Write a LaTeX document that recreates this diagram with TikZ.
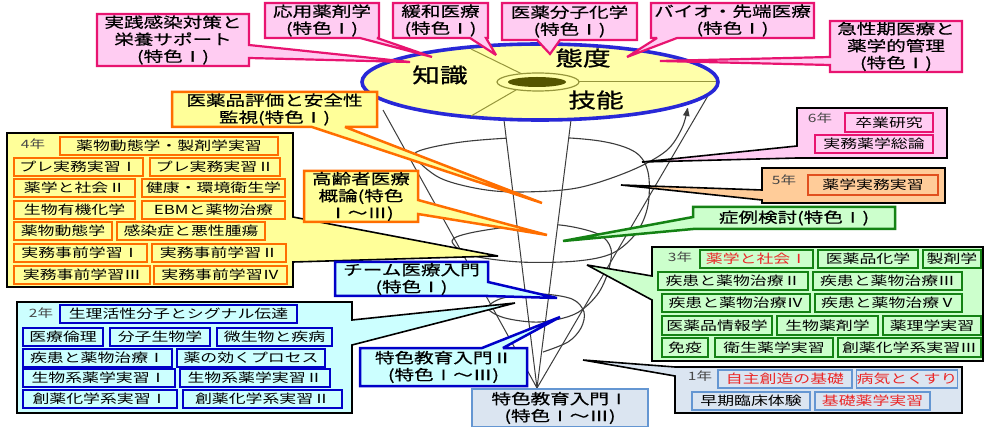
\documentclass[tikz,border=0pt]{standalone}
\usepackage{fontspec}
\usetikzlibrary{arrows.meta}
\newfontfamily\jp[FakeStretch=1.35]{Noto Sans CJK JP}
\newfontfamily\jpc[FakeStretch=1.35,FakeBold=0.6]{Noto Sans CJK JP}
\newfontfamily\jpl[FakeStretch=1.35,FakeBold=1]{Noto Sans CJK JP}
\newcommand\fitm{\jp\fontsize{12.5}{14}\selectfont}
\newcommand\fyr{\jp\fontsize{11.5}{13}\selectfont}
\newcommand\fcal{\jpc\fontsize{14.5}{17}\selectfont}
\newcommand\flab{\jpl\fontsize{20.5}{24}\selectfont}
\definecolor{pfill}{RGB}{255,204,242}
\definecolor{pkbd}{RGB}{232,20,112}
\definecolor{yfill}{RGB}{255,255,153}
\definecolor{orbd}{RGB}{255,110,0}
\definecolor{gfill}{RGB}{204,255,204}
\definecolor{grbd}{RGB}{20,130,20}
\definecolor{cfill}{RGB}{204,255,255}
\definecolor{blbd}{RGB}{0,0,200}
\definecolor{sfill}{RGB}{219,229,241}
\definecolor{sbbd}{RGB}{100,150,210}
\definecolor{pchfill}{RGB}{255,204,153}
\definecolor{rdor}{RGB}{225,80,30}
\definecolor{elfill}{RGB}{255,255,170}
\definecolor{elbd}{RGB}{40,40,215}
\definecolor{olivedk}{RGB}{85,85,0}
\definecolor{olvln}{RGB}{150,150,60}
\definecolor{redtx}{RGB}{235,40,40}
\definecolor{conel}{RGB}{60,60,60}
\definecolor{lblgray}{RGB}{70,70,70}
\tikzset{
 frm/.style={inner sep=0pt, outer sep=0pt},
 ibox/.style={draw, line width=1.6pt, inner sep=0pt, outer sep=0pt, font=\fitm, text=black},
 i4/.style={ibox, draw=orbd, fill=yfill},
 i3/.style={ibox, draw=grbd, fill=gfill},
 i2/.style={ibox, draw=blbd, fill=cfill},
 i1/.style={ibox, draw=sbbd, fill=sfill},
 i6/.style={ibox, draw=pkbd, fill=pfill},
 i5/.style={ibox, draw=rdor, fill=pchfill},
 rtx/.style={text=redtx},
 yr/.style={font=\fyr, text=lblgray, inner sep=0pt},
 ctx/.style={font=\fcal, align=center, inner sep=0pt, text=black},
 cpink/.style={draw=pkbd, fill=pfill, line width=2.2pt},
 corng/.style={draw=orbd, fill=yfill, line width=2.5pt},
 cblue/.style={draw=blbd, fill=cfill, line width=2.5pt},
 cgreen/.style={draw=grbd, fill=gfill, line width=2.5pt},
 cblk/.style={draw=black, line width=1.6pt},
 conestyle/.style={draw=conel, line width=1pt},
}
\newcommand\frm[5]{\node[frm, minimum width={(#4-#2)*1pt}, minimum height={(#5-#3)*1pt}] (#1) at ({(#2+#4)/2},{(#3+#5)/2}) {};}
\newcommand\ib[7]{\node[#2, minimum width={(#5-#3)*1pt}, minimum height={(#6-#4)*1pt}] (#1) at ({(#3+#5)/2},{(#4+#6)/2}) {#7};}
\begin{document}
\begin{tikzpicture}[x=1pt,y=-1pt,line join=miter,miter limit=3]
\useasboundingbox (0,0) rectangle (984,427);
\fill[white] (0,0) rectangle (984,427);

% spiral
\draw[conestyle, line width=1.1pt, -{Latex[length=10pt,width=7pt]}] plot[smooth, tension=0.55] coordinates {
 (543,352) (568,342) (581,328) (584,312) (572,299) (540,294) (503,298) (488,308)
 (505,318) (540,322) (575,314) (597,295) (608,272) (611,249)
 (598,234) (560,225) (517,226) (470,233) (452,241) (470,255) (520,262) (577,261) (613,253)
 (637,232) (648,205) (648,172) (635,152) (600,141) (540,137) (470,141) (425,149) (415,157)
 (440,178) (480,189) (520,192) (577,188) (630,171) (666,151) (682,128) (688,106)};
% band gaps
\fill[white] (506,130) -- (569,130) -- (568,148) -- (507,148) -- cycle;
\fill[white] (517,217) -- (558,217) -- (557,234) -- (518,234) -- cycle;

% cone lines
\coordinate (apex) at (537,388);
\coordinate (cl1) at (383,110);
\coordinate (cl2) at (503,112);
\coordinate (cl3) at (572,112);
\coordinate (cl4) at (709,94);
\draw[conestyle] (cl1) -- (apex);
\draw[conestyle] (cl2) -- (apex);
\draw[conestyle] (cl3) -- (apex);
\draw[conestyle] (cl4) -- (apex);

% top ellipse
\draw[draw=elbd, fill=elfill, line width=3.6pt] (540,82) ellipse [x radius=178, y radius=38];
\draw[olvln, line width=1pt] (522,74) -- (471,49);
\draw[olvln, line width=1pt] (516,90) -- (471,116);
\draw[olvln, line width=1pt] (579,82) -- (716,82);
\draw[olvln, fill=elfill, line width=1.2pt] (538,82) ellipse [x radius=41, y radius=9];
\fill[olivedk] (537,82) ellipse [x radius=29, y radius=5];

% ---- pink top callouts
\frm{cA}{97}{14}{249}{66}
\coordinate (tA) at (410,62);
\path[cpink] (cA.north west) -- (cA.north east) -- (249,45) -- (tA) -- (249,58) -- (cA.south east) -- (cA.south west) -- cycle;
\node[ctx] (xA) at (cA) {実践感染対策と\\栄養サポート\\(特色Ⅰ)};

\frm{cB}{265}{3}{379}{38}
\coordinate (tB) at (432,57);
\path[cpink] (cB.north west) -- (cB.north east) -- (cB.south east) -- (377,38) -- (tB) -- (360,38) -- (cB.south west) -- cycle;
\node[ctx] (xB) at (cB) {応用薬剤学\\(特色Ⅰ)};

\frm{cC}{393}{3}{488}{38}
\coordinate (tC) at (496,55);
\path[cpink] (cC.north west) -- (cC.north east) -- (cC.south east) -- (486,38) -- (tC) -- (470,38) -- (cC.south west) -- cycle;
\node[ctx] (xC) at (cC) {緩和医療\\(特色Ⅰ)};

\frm{cD}{502}{3}{637}{40}
\coordinate (tD) at (550,54);
\path[cpink] (cD.north west) -- (cD.north east) -- (cD.south east) -- (560,40) -- (tD) -- (537,40) -- (cD.south west) -- cycle;
\node[ctx] (xD) at (cD) {医薬分子化学\\(特色Ⅰ)};

\frm{cE}{651}{3}{814}{38}
\coordinate (tE) at (627,57);
\path[cpink] (cE.north west) -- (cE.north east) -- (cE.south east) -- (677,38) -- (tE) -- (657,38) -- (cE.south west) -- cycle;
\node[ctx] (xE) at (cE) {バイオ・先端医療\\(特色Ⅰ)};

\frm{cF}{830}{21}{962}{72}
\coordinate (tF) at (660,61);
\path[cpink] (cF.north west) -- (cF.north east) -- (cF.south east) -- (cF.south west) -- (830,65) -- (tF) -- (830,57) -- cycle;
\node[ctx] (xF) at (cF) {急性期医療と\\薬学的管理\\(特色Ⅰ)};

% ---- 4年
\frm{c4}{7}{133}{293}{287}
\coordinate (t4) at (498,256);
\path[cblk, fill=yfill] (c4.north west) -- (c4.north east) -- (293,217) -- (t4) -- (293,262) -- (c4.south east) -- (c4.south west) -- cycle;
\node[yr] (y4l) at (33,144) {4年};
\ib{i4a}{i4}{60}{137}{278}{155}{薬物動態学・製剤学実習}
\ib{i4b}{i4}{14}{158}{143}{176}{プレ実務実習Ⅰ}
\ib{i4c}{i4}{150}{158}{280}{176}{プレ実務実習Ⅱ}
\ib{i4d}{i4}{14}{179}{135}{197}{薬学と社会Ⅱ}
\ib{i4e}{i4}{142}{179}{285}{197}{健康・環境衛生学}
\ib{i4f}{i4}{14}{201}{135}{219}{生物有機化学}
\ib{i4g}{i4}{142}{201}{285}{219}{EBMと薬物治療}
\ib{i4h}{i4}{14}{222}{112}{240}{薬物動態学}
\ib{i4i}{i4}{117}{222}{265}{240}{感染症と悪性腫瘍}
\ib{i4j}{i4}{14}{244}{147}{262}{実務事前学習Ⅰ}
\ib{i4k}{i4}{152}{244}{286}{262}{実務事前学習Ⅱ}
\ib{i4l}{i4}{14}{266}{150}{284}{実務事前学習Ⅲ}
\ib{i4m}{i4}{154}{266}{287}{284}{実務事前学習Ⅳ}

% ---- orange callouts
\frm{cG}{172}{92}{377}{127}
\coordinate (tG) at (542,203);
\path[corng] (cG.north west) -- (cG.north east) -- (cG.south east) -- (345,127) -- (tG) -- (312,127) -- (cG.south west) -- cycle;
\node[ctx] (xG) at (cG) {医薬品評価と安全性\\監視(特色Ⅰ)};

\frm{cH}{304}{171}{418}{222}
\coordinate (tH) at (547,235);
\path[corng] (cH.north west) -- (cH.north east) -- (418,200) -- (tH) -- (418,214) -- (cH.south east) -- (cH.south west) -- cycle;
\node[ctx] (xH) at (cH) {高齢者医療\\概論(特色\\Ⅰ～Ⅲ)};

% ---- 6年
\frm{c6}{797}{108}{947}{158}
\coordinate (t6) at (642,162);
\path[cblk, fill=pfill] (c6.north west) -- (c6.north east) -- (c6.south east) -- (c6.south west) -- (t6) -- (797,146) -- cycle;
\node[yr] (y6l) at (820,118) {6年};
\ib{i6a}{i6}{845}{113}{933}{132}{卒業研究}
\ib{i6b}{i6}{815}{135}{933}{153}{実務薬学総論}

% ---- 5年
\frm{c5}{762}{168}{945}{203}
\coordinate (t5) at (621,185);
\path[cblk, fill=pchfill] (c5.north west) -- (c5.north east) -- (c5.south east) -- (c5.south west) -- (762,200) -- (t5) -- (762,190) -- cycle;
\node[yr] (y5l) at (784,180) {5年};
\ib{i5a}{i5}{808}{175}{938}{195}{薬学実務実習}

% ---- 症例検討
\frm{cL}{693}{207}{895}{229}
\coordinate (tL) at (563,241);
\path[cgreen] (cL.north west) -- (cL.north east) -- (cL.south east) -- (cL.south west) -- (tL) -- (693,217) -- cycle;
\node[ctx] (xL) at (cL) {症例検討(特色Ⅰ)};

% ---- 3年
\frm{c3}{652}{247}{983}{361}
\coordinate (t3) at (587,265);
\path[cblk, fill=gfill] (c3.north west) -- (c3.north east) -- (c3.south east) -- (c3.south west) -- (652,300) -- (t3) -- (652,276) -- cycle;
\node[yr] (y3l) at (680,257) {3年};
\ib{i3a}{i3,rtx}{700}{250}{813}{268}{薬学と社会Ⅰ}
\ib{i3b}{i3}{818}{250}{918}{268}{医薬品化学}
\ib{i3c}{i3}{923}{250}{981}{268}{製剤学}
\ib{i3d}{i3}{658}{272}{808}{290}{疾患と薬物治療Ⅱ}
\ib{i3e}{i3}{813}{272}{962}{290}{疾患と薬物治療Ⅲ}
\ib{i3f}{i3}{662}{294}{810}{312}{疾患と薬物治療Ⅳ}
\ib{i3g}{i3}{815}{294}{962}{312}{疾患と薬物治療Ⅴ}
\ib{i3h}{i3}{662}{316}{772}{335}{医薬品情報学}
\ib{i3i}{i3}{777}{316}{878}{335}{生物薬剤学}
\ib{i3j}{i3}{883}{316}{981}{335}{薬理学実習}
\ib{i3k}{i3}{662}{338}{708}{357}{免疫}
\ib{i3l}{i3}{715}{338}{833}{357}{衛生薬学実習}
\ib{i3m}{i3}{838}{338}{981}{357}{創薬化学系実習Ⅲ}

% ---- 1年
\frm{c1}{675}{367}{962}{413}
\coordinate (t1) at (583,360);
\path[cblk, fill=sfill] (c1.north west) -- (c1.north east) -- (c1.south east) -- (c1.south west) -- (675,376) -- (t1) -- cycle;
\node[yr] (y1l) at (700,376) {1年};
\ib{i1a}{i1,rtx}{718}{370}{852}{388}{自主創造の基礎}
\ib{i1b}{i1,rtx}{857}{370}{957}{388}{病気とくすり}
\ib{i1c}{i1}{692}{392}{810}{410}{早期臨床体験}
\ib{i1d}{i1,rtx}{815}{392}{930}{410}{基礎薬学実習}

% ---- 2年
\frm{c2}{17}{302}{352}{413}
\coordinate (t2) at (515,303);
\path[cblk, fill=cfill] (c2.north west) -- (c2.north east) -- (352,320) -- (t2) -- (352,345) -- (c2.south east) -- (c2.south west) -- cycle;
\node[yr] (y2l) at (41,313) {2年};
\ib{i2a}{i2}{60}{305}{297}{323}{生理活性分子とシグナル伝達}
\ib{i2b}{i2}{23}{328}{103}{346}{医療倫理}
\ib{i2c}{i2}{110}{328}{210}{346}{分子生物学}
\ib{i2d}{i2}{217}{328}{332}{346}{微生物と疾病}
\ib{i2e}{i2}{23}{349}{172}{367}{疾患と薬物治療Ⅰ}
\ib{i2f}{i2}{177}{349}{325}{367}{薬の効くプロセス}
\ib{i2g}{i2}{23}{369}{175}{387}{生物系薬学実習Ⅰ}
\ib{i2h}{i2}{180}{369}{330}{387}{生物系薬学実習Ⅱ}
\ib{i2i}{i2}{23}{390}{177}{408}{創薬化学系実習Ⅰ}
\ib{i2j}{i2}{183}{390}{342}{408}{創薬化学系実習Ⅱ}

% ---- blue callouts
\frm{cP}{335}{262}{488}{296}
\coordinate (tP) at (557,298);
\path[cblue] (cP.north west) -- (cP.north east) -- (488,282) -- (tP) -- (cP.south east) -- (cP.south west) -- cycle;
\node[ctx] (xP) at (cP) {チーム医療入門\\(特色Ⅰ)};

\frm{cQ}{360}{348}{527}{386}
\coordinate (tQ) at (560,317);
\path[cblue] (cQ.north west) -- (482,348) -- (tQ) -- (503,348) -- (cQ.north east) -- (cQ.south east) -- (cQ.south west) -- cycle;
\node[ctx] (xQ) at (cQ) {特色教育入門Ⅱ\\(特色Ⅰ～Ⅲ)};

\frm{cR}{472}{389}{648}{427}
\path[draw=sbbd, fill=sfill, line width=2.5pt] (cR.north west) rectangle (cR.south east);
\node[ctx] (xR) at (cR) {特色教育入門Ⅰ\\(特色Ⅰ～Ⅲ)};

% ellipse labels
\node[font=\flab, inner sep=0pt] (k1) at (440,75) {知識};
\node[font=\flab, inner sep=0pt] (k2) at (583,58) {態度};
\node[font=\flab, inner sep=0pt] (k3) at (596,100) {技能};
\end{tikzpicture}
\end{document}
